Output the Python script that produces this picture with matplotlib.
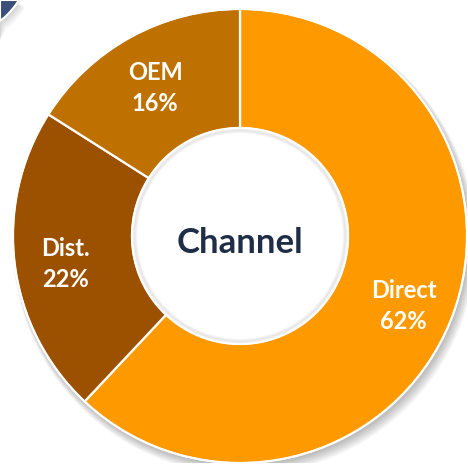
import matplotlib
matplotlib.use("Agg")
import matplotlib.pyplot as plt
import numpy as np
from matplotlib.patches import Circle, Polygon, Wedge

labels = ["Direct", "Dist.", "OEM"]
values = [62, 22, 16]
colors = ["#FF9900", "#9C5100", "#BF7100"]
center_title = "Channel"

W, H = 468, 466
fig = plt.figure(figsize=(W / 100, H / 100), dpi=100)
fig.patch.set_facecolor("white")

cx, cy, R = 240, 236, 227
ax = fig.add_axes([(cx - R) / W, (H - cy - R) / H, 2 * R / W, 2 * R / H])
ax.axis("off")

hole = 0.476

# soft drop shadow
for i in range(8):
    off = 0.010 + i * 0.003
    ax.add_patch(Circle((off * 0.6, -off), 1.0 + i * 0.003, color="black",
                        alpha=0.035, lw=0, zorder=0))

wedges, _ = ax.pie(values, colors=colors, startangle=90, counterclock=False,
                   radius=1.0,
                   wedgeprops=dict(width=1 - hole, edgecolor="white", linewidth=1.6))
for w in wedges:
    w.set_zorder(2)

# white outer rim
ax.add_patch(Circle((0, 0), 1.0, fill=False, ec="white", lw=1.2, zorder=3))

# inner hole with subtle inner shadow
ax.add_patch(Circle((0, 0), hole, color="white", lw=0, zorder=3))
for i in range(5):
    ax.add_patch(Wedge((0, 0), hole - 0.003 * i, 0, 360, width=0.012,
                       color="black", alpha=0.025, lw=0, zorder=4))
ax.add_patch(Circle((0, 0), hole, fill=False, ec="white", lw=1.2, zorder=5))

ax.text(0, -0.03, center_title, ha="center", va="center", fontsize=25,
        fontweight="bold", color="#1F2D47", family=["Lato", "DejaVu Sans"], zorder=6)

total = sum(values)
start = 90.0
ldist = 0.775
for lab, v in zip(labels, values):
    mid = start - 360 * v / total / 2
    start -= 360 * v / total
    x = ldist * np.cos(np.radians(mid))
    y = ldist * np.sin(np.radians(mid)) - 0.025
    ax.text(x, y, f"{lab}\n{v}%", ha="center", va="center", fontsize=17,
            fontweight="bold", color="white", linespacing=1.42,
            family=["Lato", "DejaVu Sans"], zorder=6)

ax.set_xlim(-1, 1)
ax.set_ylim(-1, 1)
ax.set_aspect("equal")

# top-left decorative corner (pixel coords -> figure fraction)
def px(x, y):
    return (x / W, 1 - y / H)

edge = [(19, 0), (15, 6), (10, 12), (5, 17), (0, 21)]
pts = [px(0, 0)] + [px(x, y) for x, y in edge]
for k in range(5):
    sh = [px(0, 0)] + [px(x + 1.2 * (k + 1), y + 1.6 * (k + 1)) for x, y in edge] + [px(0, 40)]
    fig.patches.append(Polygon(sh, closed=True, transform=fig.transFigure,
                               color="black", alpha=0.035, lw=0))
fig.patches.append(Polygon(pts, closed=True, transform=fig.transFigure,
                           fc="#3B5078", ec="white", lw=1.5))

fig.savefig("out.png", dpi=100, facecolor="white")
